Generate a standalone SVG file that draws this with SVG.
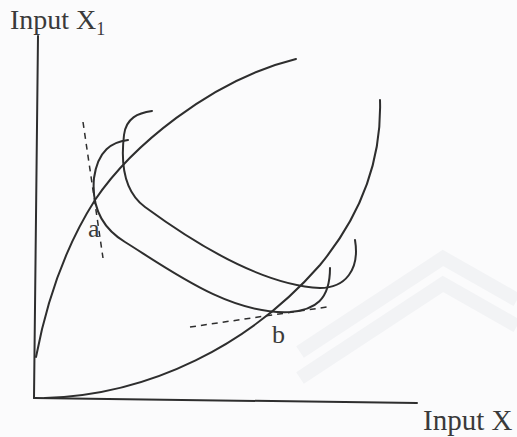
<svg xmlns="http://www.w3.org/2000/svg" width="517" height="437" viewBox="0 0 517 437">
<style>
.ln{fill:none;stroke:#2e2e2e;stroke-width:2;stroke-linecap:round;stroke-linejoin:round}
.ds{fill:none;stroke:#2e2e2e;stroke-width:1.5;stroke-dasharray:6 5}
.tx{font-family:"Liberation Serif","Times New Roman",serif;fill:#3a3a3a}
.wm{fill:none;stroke:#f2f3f5;stroke-width:14}
</style>
<rect x="0" y="0" width="517" height="437" fill="#fbfbfc"/>
<g id="watermark">
<path class="wm" d="M300,352 L443,258 L517,300"/>
<path class="wm" d="M300,378 L443,284 L517,326" stroke="#f5f6f7"/>
</g>
<g id="axes">
<line class="ln" x1="38" y1="36" x2="34" y2="398"/>
<line class="ln" x1="34" y1="398" x2="417" y2="403"/>
</g>
<g id="labels">
<text class="tx" x="10" y="29" font-size="28">Input X<tspan font-size="18" dy="6">1</tspan></text>
<text class="tx" x="423" y="430" font-size="29">Input X</text>
<text class="tx" x="88" y="237" font-size="26">a</text>
<text class="tx" x="272" y="343" font-size="26">b</text>
</g>
<g id="curves">
<path id="expansion-concave" class="ln" d="M36,357 C44,315 60,255 95,200 C130,148 210,80 296,59"/>
<path id="expansion-convex" class="ln" d="M45,398 C150,395 250,345 320,265 C357,220 382,165 380,100"/>
<path id="isoquant-upper" class="ln" d="M152,111 C138,113 126,118 124,135 C121,160 122,190 145,207 C190,240 260,285 320,288 C345,288 360,270 355,240"/>
<path id="isoquant-lower" class="ln" d="M128,140 C112,142 98,150 94,178 C92,200 97,225 125,242 C170,270 230,315 290,312 C315,310 330,300 330,268"/>
</g>
<g id="connectors">
<line class="ds" x1="83" y1="122" x2="103" y2="258"/>
<line class="ds" x1="190" y1="327" x2="327" y2="307"/>
</g>
</svg>
